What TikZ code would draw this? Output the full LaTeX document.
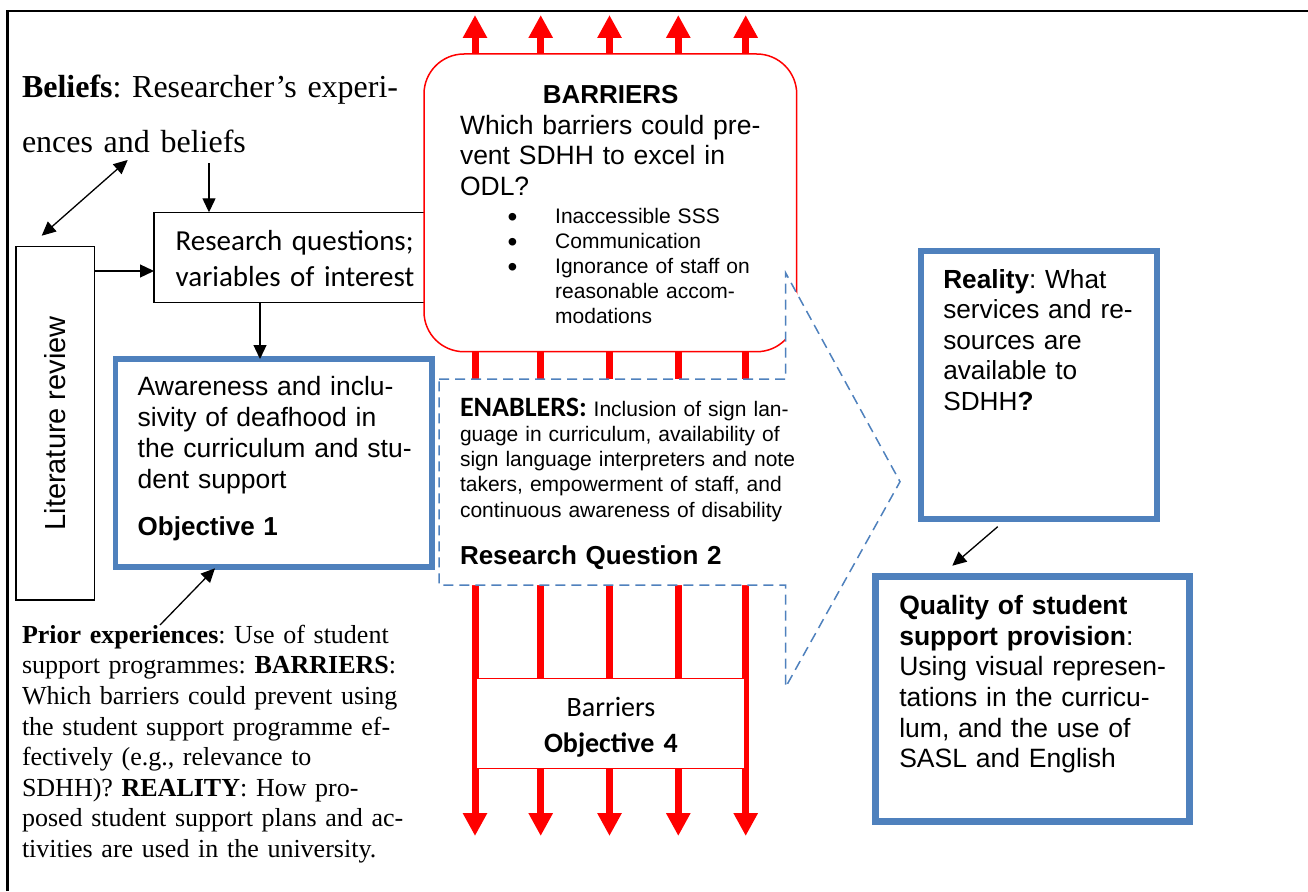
\documentclass[tikz,border=0pt]{standalone}
\usepackage{fontspec}
\setmainfont{Liberation Serif}
\setsansfont{Liberation Sans}
\newfontfamily\calibrifont{Carlito}
\usetikzlibrary{arrows.meta}

\definecolor{steelblue}{RGB}{79,129,189}
\definecolor{barred}{RGB}{255,0,0}
\newcommand{\setfs}[2]{\fontsize{#1}{#2}\selectfont}
\newcommand{\bigbul}{\makebox[47.7pt][l]{\smash{\raisebox{-3.5pt}{\setfs{28}{25}\textbullet}}}}

\begin{document}
\frenchspacing
\begin{tikzpicture}[x=1pt,y=-1pt,
  every node/.style={inner sep=0pt, outer sep=0pt},
  txt/.style={anchor=base west, align=left, text width=#1},
  blk/.style={draw=black, line width=1.3pt, -{Triangle[length=14pt,width=13pt]}},
  blkboth/.style={draw=black, line width=1.3pt, {Triangle[length=14pt,width=13pt]}-{Triangle[length=14pt,width=13pt]}},
  redarr/.style={draw=barred, line width=7pt, {Triangle[length=23pt,width=23pt]}-{Triangle[length=23pt,width=23pt]}},
  plainbox/.style={draw=black, line width=1.5pt, fill=white, anchor=north west},
  bluebox/.style={draw=steelblue, fill=white, anchor=north west},
  redbox/.style={draw=barred, line width=1.5pt, fill=white, anchor=north west},
  callout/.style={draw=steelblue, line width=1.5pt, dash pattern=on 10pt off 6pt, fill=white}
]
\useasboundingbox (0,0) rectangle (1308,891);

% page frame (top and left rule)
\coordinate (fbl) at (7.5,891);
\coordinate (ftl) at (7.5,11);
\coordinate (ftr) at (1308,11);
\draw[line width=2.3pt] (fbl) -- (ftl) -- (ftr);

% red arrows running through barriers and enablers
\foreach \i/\x in {1/475,2/540.7,3/609.5,4/678.3,5/745.7}{
  \coordinate (up\i) at (\x,15);
  \coordinate (dn\i) at (\x,836);
  \draw[redarr] (up\i) -- (dn\i);
}

% research questions box
\node[plainbox, minimum width=366pt, minimum height=90pt] (rq) at (154,212.3) {};
\node[txt=300pt, font=\calibrifont\setfs{29}{36.7}] (rqtext) at (175.7,250)
  {Research questions;\\variables of interest};

% barriers box
\node[redbox, rounded corners=40pt, minimum width=372.7pt, minimum height=297.7pt] (barr) at (424,54) {};
\node[anchor=base, font=\sffamily\bfseries\setfs{26}{30}] (barrtitle) at (610.7,103) {BARRIERS};
\node[txt=320pt, font=\sffamily\setfs{26.5}{30.7}] (barrtext) at (460,134)
  {Which barriers could pre-\\vent SDHH to excel in\\ODL?};
\node[txt=280pt, font=\sffamily\setfs{21}{25}] (barrlist) at (507.5,223)
  {\bigbul Inaccessible SSS\\
   \bigbul Communication\\
   \bigbul Ignorance of staff on\\
   \hspace*{47.7pt}reasonable accom-\\
   \hspace*{47.7pt}modations};

% enablers callout
\coordinate (c1) at (439,379);
\coordinate (c2) at (785.7,379);
\coordinate (c3) at (785.7,273);
\coordinate (c4) at (900,481.7);
\coordinate (c5) at (785.7,687);
\coordinate (c6) at (785.7,585);
\coordinate (c7) at (439,585);
\draw[callout] (c1) -- (c2) -- (c3) -- (c4) -- (c5) -- (c6) -- (c7) -- cycle;
\node[txt=420pt, font=\sffamily\setfs{21}{25.3}] (enabtext) at (460,416)
  {{\calibrifont\bfseries\setfs{28}{25.3}ENABLERS:} Inclusion of sign lan-\\
   guage in curriculum, availability of\\
   sign language interpreters and note\\
   takers, empowerment of staff, and\\
   continuous awareness of disability};
\node[txt=320pt, font=\sffamily\bfseries\setfs{26}{30}] (rq2) at (460,564) {Research Question 2};

% objective 4 box
\node[redbox, minimum width=268.3pt, minimum height=89.6pt] (obj4) at (476.7,678.7) {};
\node[anchor=base, align=center, text width=260pt, font=\calibrifont\setfs{28}{36}] (obj4text) at (611,716.7)
  {Barriers\\\textbf{Objective 4}};

% literature review
\node[plainbox, minimum width=78.3pt, minimum height=353.3pt] (lit) at (16,246.7) {};
\node[rotate=90, font=\sffamily\setfs{29}{34}] (littext) at (lit.center) {Literature review};

% beliefs
\node[txt=420pt, font=\setfs{32}{55}] (beliefs) at (22,97)
  {\textbf{Beliefs}: Researcher’s experi-\\ences and beliefs};

% objective 1 box
\node[bluebox, line width=5.8pt, minimum width=316.2pt, minimum height=207.7pt] (obj1) at (115.5,359) {};
\node[txt=300pt, font=\sffamily\setfs{26.5}{31}] (obj1text) at (137.7,395.7)
  {Awareness and inclu-\\sivity of deafhood in\\the curriculum and stu-\\dent support};
\node[txt=280pt, font=\sffamily\bfseries\setfs{26}{30}] (obj1lab) at (137.7,535) {Objective 1};

% prior experiences
\node[txt=420pt, font=\setfs{26}{30.6}] (prior) at (22,643.3)
  {\textbf{Prior experiences}: Use of student\\
   support programmes: \textbf{BARRIERS}:\\
   Which barriers could prevent using\\
   the student support programme ef-\\
   fectively (e.g., relevance to\\
   SDHH)? \textbf{REALITY}: How pro-\\
   posed student support plans and ac-\\
   tivities are used in the university.};

% reality box
\node[bluebox, line width=5.7pt, minimum width=235.7pt, minimum height=267.5pt] (real) at (921,251.3) {};
\node[txt=220pt, font=\sffamily\setfs{26.2}{30.5}] (realtext) at (943.3,288.3)
  {\textbf{Reality}: What\\services and re-\\sources are\\available to\\SDHH\textbf{?}};

% quality box
\node[bluebox, line width=7.5pt, minimum width=314pt, minimum height=244.6pt] (qual) at (875.5,576.7) {};
\node[txt=290pt, font=\sffamily\setfs{26.5}{30.7}] (qualtext) at (899.3,614.3)
  {\textbf{Quality of student}\\\textbf{support provision}:\\Using visual represen-\\tations in the curricu-\\lum, and the use of\\SASL and English};

% black connectors
\coordinate (b1) at (209,163);
\draw[blk] (b1) -- (b1 |- rq.north);
\coordinate (d1) at (127.7,160);
\coordinate (d2) at (41.7,235.7);
\draw[blkboth] (d2) -- (d1);
\coordinate (lr) at (0,271);
\draw[blk] (lit.east |- lr) -- (rq.west |- lr);
\coordinate (ro) at (260,0);
\draw[blk] (rq.south -| ro) -- (obj1.north -| ro);
\coordinate (p1) at (160,625);
\coordinate (p2) at (215,568.3);
\draw[blk] (p1) -- (p2);
\coordinate (q1) at (997.7,526.7);
\coordinate (q2) at (952.3,565.7);
\draw[blk] (q1) -- (q2);
\end{tikzpicture}
\end{document}
